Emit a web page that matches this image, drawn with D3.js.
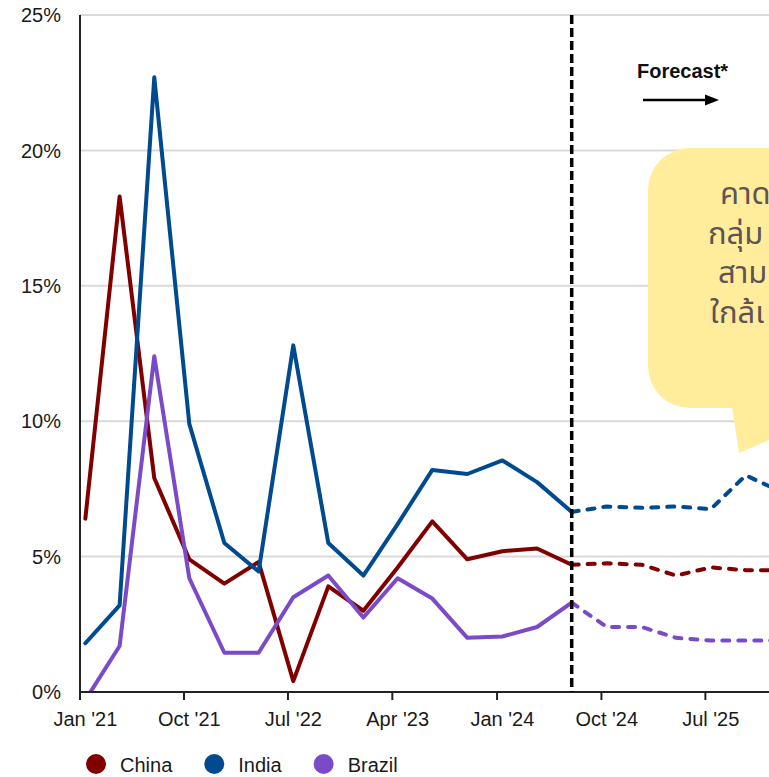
<!DOCTYPE html>
<html>
<head>
<meta charset="utf-8">
<script src="https://cdn.jsdelivr.net/npm/d3@7"></script>
<style>
  html, body { margin: 0; padding: 0; background: #fff; }
  svg { display: block; }
  .lbl { font-family: "Liberation Sans", Arial, sans-serif; font-size: 20px; fill: #1a1a1a; }
  .bubble-text { font-family: "Noto Sans Thai", "Noto Sans Thai UI", "Sarabun", "Loma", "Garuda", "Tlwg Typo", "Noto Sans", sans-serif; font-size: 31px; fill: #5e5457; }
</style>
</head>
<body>
<svg id="chart" width="769" height="777"></svg>
<script>
// Quarterly observation dates (mid-month of each quarter's first month)
const quarters = [
  "2021-01-15", "2021-04-15", "2021-07-15", "2021-10-15",
  "2022-01-15", "2022-04-15", "2022-07-15", "2022-10-15",
  "2023-01-15", "2023-04-15", "2023-07-15", "2023-10-15",
  "2024-01-15", "2024-04-15", "2024-07-15", "2024-10-15",
  "2025-01-15", "2025-04-15", "2025-07-15", "2025-10-15",
  "2026-01-15"
];
// Inflation, % year on year
const china  = [6.4, 18.3, 7.9, 4.9, 4.0, 4.8, 0.4, 3.9, 3.0, 4.6, 6.3, 4.9, 5.2, 5.3, 4.7, 4.75, 4.7, 4.3, 4.6, 4.5, 4.5];
const india  = [1.8, 3.2, 22.7, 9.9, 5.5, 4.45, 12.8, 5.5, 4.3, 6.2, 8.2, 8.05, 8.55, 7.75, 6.65, 6.85, 6.8, 6.85, 6.75, 8.0, 7.4];
const brazil = [-0.3, 1.7, 12.4, 4.2, 1.45, 1.45, 3.5, 4.3, 2.75, 4.2, 3.45, 2.0, 2.05, 2.4, 3.3, 2.4, 2.4, 2.0, 1.9, 1.9, 1.9];
const seriesNames = ["China", "India", "Brazil"];
const seriesColors = ["#800000", "#004a8f", "#7a4ac8"];
// First forecast quarter index (the last actual observation is shared)
const forecastStart = 14;

// Axis ticks
const xTickDates = ["2021-01-01", "2021-10-01", "2022-07-01", "2023-04-01", "2024-01-01", "2024-10-01", "2025-07-01"];
const xTickLabels = ["Jan '21", "Oct '21", "Jul '22", "Apr '23", "Jan '24", "Oct '24", "Jul '25"];
const yTicks = [0, 5, 10, 15, 20, 25];

// Callout lines (the callout runs past the right edge of the canvas)
const bubbleLines = ["คาด", "กลุ่ม", "สาม", "ใกล้เ"];

const parse = d3.utcParse("%Y-%m-%d");
const svg = d3.select("#chart");
const m = { left: 80, top: 15, bottom: 692, right: 769 };

const x = d3.scaleUtc()
  .domain([parse("2021-01-01"), parse("2025-12-15")])
  .range([m.left, m.right]);
const y = d3.scaleLinear().domain([0, 25]).range([m.bottom, m.top]);

// Gridlines
svg.append("g")
  .selectAll("line")
  .data(yTicks.filter(d => d > 0))
  .join("line")
  .attr("x1", m.left).attr("x2", 900)
  .attr("y1", d => y(d)).attr("y2", d => y(d))
  .attr("stroke", "#d9d9d9").attr("stroke-width", 2);

// Y axis labels
svg.append("g")
  .selectAll("text")
  .data(yTicks)
  .join("text")
  .attr("class", "lbl")
  .attr("x", m.left - 19)
  .attr("y", d => y(d))
  .attr("dy", "0.36em")
  .attr("text-anchor", "end")
  .text(d => d + "%");

// Plot clip
svg.append("defs").append("clipPath").attr("id", "plot")
  .append("rect").attr("x", m.left).attr("y", 0).attr("width", 900).attr("height", m.bottom);

const dates = quarters.map(parse);
const values = [china, india, brazil];

const line = d3.line()
  .x(d => x(d.date))
  .y(d => y(d.value));

const lines = svg.append("g").attr("clip-path", "url(#plot)");
values.forEach((vals, s) => {
  const pts = vals.map((v, i) => ({ date: dates[i], value: v }));
  lines.append("path")
    .datum(pts.slice(0, forecastStart + 1))
    .attr("d", line)
    .attr("fill", "none")
    .attr("stroke", seriesColors[s])
    .attr("stroke-width", 4)
    .attr("stroke-linejoin", "round")
    .attr("stroke-linecap", "round");
  lines.append("path")
    .datum(pts.slice(forecastStart))
    .attr("d", line)
    .attr("fill", "none")
    .attr("stroke", seriesColors[s])
    .attr("stroke-width", 4)
    .attr("stroke-linejoin", "round")
    .attr("stroke-linecap", "round")
    .attr("stroke-dasharray", "7,9");
});

// Axes lines
svg.append("line")
  .attr("x1", m.left).attr("x2", m.left).attr("y1", m.top).attr("y2", m.bottom + 1)
  .attr("stroke", "#222").attr("stroke-width", 2);
svg.append("line")
  .attr("x1", m.left - 1).attr("x2", m.right).attr("y1", m.bottom).attr("y2", m.bottom)
  .attr("stroke", "#222").attr("stroke-width", 2);

// X ticks and labels
const xt = svg.append("g");
xTickDates.forEach((d, i) => {
  const t = parse(d);
  xt.append("line")
    .attr("x1", x(t)).attr("x2", x(t))
    .attr("y1", m.bottom).attr("y2", m.bottom + 8)
    .attr("stroke", "#222").attr("stroke-width", 2);
  xt.append("text")
    .attr("class", "lbl")
    .attr("x", x(d3.utcDay.offset(t, 14)))
    .attr("y", m.bottom + 34)
    .attr("text-anchor", "middle")
    .text(xTickLabels[i]);
});

// Forecast divider
const fx = x(dates[forecastStart]);
svg.append("line")
  .attr("x1", fx).attr("x2", fx).attr("y1", m.top).attr("y2", m.bottom)
  .attr("stroke", "#000").attr("stroke-width", 3.5)
  .attr("stroke-dasharray", "9,4");

// Forecast label and arrow
svg.append("text")
  .attr("x", 637).attr("y", 78)
  .attr("font-family", "Liberation Sans, Arial, sans-serif")
  .attr("font-weight", "bold").attr("font-size", 20)
  .attr("fill", "#111")
  .text("Forecast*");
svg.append("line")
  .attr("x1", 643).attr("x2", 708).attr("y1", 100).attr("y2", 100)
  .attr("stroke", "#000").attr("stroke-width", 2.5);
svg.append("path")
  .attr("d", "M705,94.5 L719,100 L705,105.5 Z")
  .attr("fill", "#000");

// Callout bubble
const bubble = svg.append("g");
bubble.append("path")
  .attr("d", "M731,400 L739,453 L820,418 L820,400 Z")
  .attr("fill", "#ffed9b");
bubble.append("rect")
  .attr("x", 648).attr("y", 148).attr("width", 220).attr("height", 260)
  .attr("rx", 42).attr("ry", 42)
  .attr("fill", "#ffed9b");
const bx = [720, 708, 718, 710];
bubbleLines.forEach((t, i) => {
  bubble.append("text")
    .attr("class", "bubble-text")
    .attr("x", bx[i])
    .attr("y", 204 + i * 39.5)
    .text(t);
});

// Legend
const legend = svg.append("g");
let lx = 96;
seriesNames.forEach((name, i) => {
  legend.append("circle")
    .attr("cx", lx).attr("cy", 764).attr("r", 10)
    .attr("fill", seriesColors[i]);
  const t = legend.append("text")
    .attr("class", "lbl")
    .attr("x", lx + 24).attr("y", 772)
    .text(name);
  lx += 24 + t.node().getComputedTextLength() + 42;
});
</script>
</body>
</html>
